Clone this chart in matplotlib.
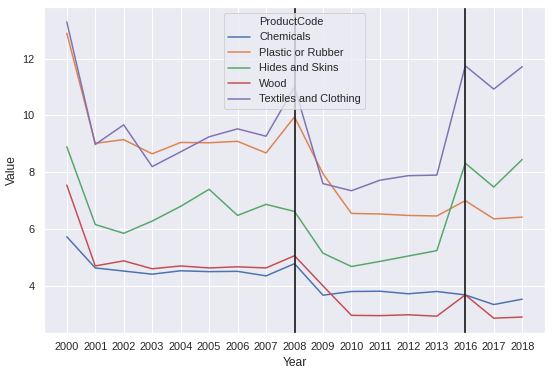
import numpy as np
import matplotlib
matplotlib.use("Agg")
import matplotlib.pyplot as plt
import seaborn as sns
from matplotlib.lines import Line2D

sns.set_theme(style="darkgrid")
plt.rcParams["font.family"] = ["Liberation Sans", "DejaVu Sans"]

years = ["2000", "2001", "2002", "2003", "2004", "2005", "2006", "2007", "2008",
         "2009", "2010", "2011", "2012", "2013", "2016", "2017", "2018"]

chemicals = [5.73, 4.63, 4.52, 4.41, 4.53, 4.50, 4.51, 4.35, 4.78,
             3.67, 3.80, 3.81, 3.72, 3.80, 3.68, 3.34, 3.53]
plastic = [12.9, 9.02, 9.15, 8.65, 9.05, 9.04, 9.09, 8.68, 9.95,
           7.95, 6.55, 6.53, 6.48, 6.46, 7.00, 6.36, 6.42]
hides = [8.90, 6.16, 5.85, 6.28, 6.80, 7.40, 6.48, 6.87, 6.62,
         5.15, 4.68, 4.86, 5.05, 5.24, 8.32, 7.48, 8.45]
wood = [7.55, 4.70, 4.88, 4.60, 4.70, 4.63, 4.67, 4.63, 5.06,
        4.00, 2.96, 2.95, 2.98, 2.93, 3.68, 2.86, 2.90]
textiles = [13.3, 8.98, 9.67, 8.20, 8.72, 9.25, 9.53, 9.27, 11.0,
            7.60, 7.35, 7.72, 7.88, 7.90, 11.75, 10.93, 11.72]

series = {
    "Chemicals": chemicals,
    "Plastic or Rubber": plastic,
    "Hides and Skins": hides,
    "Wood": wood,
    "Textiles and Clothing": textiles,
}
marked_years = ["2008", "2016"]

fig, ax = plt.subplots(figsize=(552 / 72, 374 / 72), dpi=72)
colors = sns.color_palette()
handles = [Line2D([], [], color="none")]
labels = ["ProductCode"]
for (name, vals), c in zip(series.items(), colors):
    h, = ax.plot(years, vals, color=c, lw=1.5)
    handles.append(h)
    labels.append(name)

for y in marked_years:
    ax.axvline(years.index(y), color="#262626", lw=1.8)

ax.set_xlabel("Year")
ax.set_ylabel("Value")
ax.legend(handles, labels, loc="upper center")

fig.subplots_adjust(left=44 / 552, right=545 / 552, top=1 - 7 / 374, bottom=1 - 333 / 374)
fig.savefig("out.png")
